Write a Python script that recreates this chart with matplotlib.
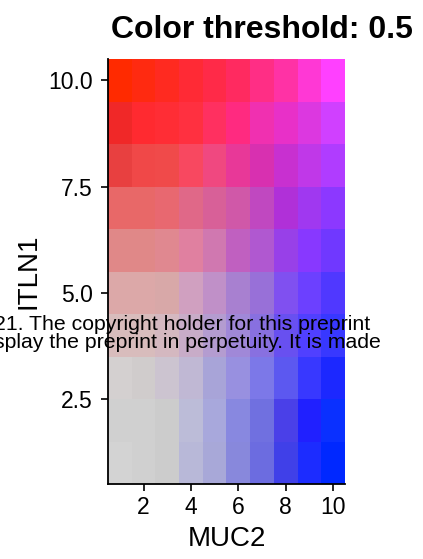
import numpy as np
import matplotlib
matplotlib.use("Agg")
import matplotlib.pyplot as plt
from matplotlib.colors import to_rgb

plt.rcParams['font.family'] = ['Liberation Sans', 'DejaVu Sans']

# blend colours, row 1 (bottom, ITLN1 = 1) to row 10 (top)
# each row goes MUC2 = 1 .. 10
row1 = ['#d3d3d3', '#d0d0d0', '#cccccc', '#b8b8d8', '#a8a8d8', '#8888dc', '#6c6ce0', '#4040e8', '#1c2cff', '#0028ff']
row2 = ['#d0d0d0', '#d0d0d0', '#cccccc', '#bcbcd8', '#a8a8dc', '#8888e0', '#7070e0', '#4a40e8', '#2020ff', '#0a30ff']
row3 = ['#d4d0d0', '#d0cccc', '#ccc4d0', '#c0b8d4', '#a8a4d8', '#9890e0', '#7c78e8', '#5c58f0', '#3838ff', '#1c28ff']
row4 = ['#d8bcbc', '#d8bcbc', '#d4b8c0', '#c8acc8', '#b49cd0', '#a088d8', '#8870e0', '#6850f0', '#5040ff', '#3838ff']
row5 = ['#dca8a8', '#dca8a8', '#d8a8a8', '#d0a0c0', '#c090c8', '#a880d0', '#9870d8', '#8050f0', '#6c40ff', '#5038ff']
row6 = ['#e08888', '#e08888', '#e08890', '#e080a0', '#d078b0', '#c060c0', '#b058d0', '#9840e8', '#8838ff', '#7038ff']
row7 = ['#e86868', '#e86868', '#e86870', '#e06888', '#d86098', '#d058a8', '#c048c0', '#b030d8', '#a038f0', '#8c38ff']
row8 = ['#e84040', '#f04848', '#f04a4a', '#f84860', '#f04880', '#e83898', '#d830b0', '#c830d0', '#c038e8', '#b03cff']
row9 = ['#f02828', '#ff2a30', '#ff2d35', '#ff3040', '#ff3060', '#ff2a80', '#f030b0', '#e830c8', '#dc38e0', '#d040ff']
row10 = ['#ff2a00', '#ff2a10', '#ff2a20', '#ff2a35', '#ff2a48', '#ff2a60', '#ff2e85', '#ff32a5', '#ff38d5', '#ff40ff']
rows = [row1, row2, row3, row4, row5, row6, row7, row8, row9, row10]

muc2 = np.arange(1, 11)
itln1 = np.arange(1, 11)
xticks = [2, 4, 6, 8, 10]
yticks = [2.5, 5.0, 7.5, 10.0]

rgb = np.array([[to_rgb(c) for c in r] for r in rows])

fig = plt.figure(figsize=(4.23, 5.59), dpi=100)
ax = fig.add_axes([108/423, 1 - 484/559, 237/423, 425/559])
ax.imshow(rgb, origin='lower', aspect='auto',
          extent=(muc2[0] - 0.5, muc2[-1] + 0.5, itln1[0] - 0.5, itln1[-1] + 0.5))
ax.set_xlim(0.5, 10.5)
ax.set_ylim(0.5, 10.5)

for s in ['top', 'right']:
    ax.spines[s].set_visible(False)
for s in ['left', 'bottom']:
    ax.spines[s].set_linewidth(1.3)
    ax.spines[s].set_color('black')

ax.set_xticks(xticks)
ax.set_xticklabels([str(t) for t in xticks])
ax.set_yticks(yticks)
ax.set_yticklabels(['%.1f' % t for t in yticks])
ax.tick_params(direction='out', length=5, width=1.2, labelsize=16.5, colors='black')
ax.tick_params(axis='y', pad=6)
ax.tick_params(axis='x', pad=4)
ax.set_xlabel('MUC2', fontsize=20, labelpad=5)
ax.set_ylabel('ITLN1', fontsize=20, labelpad=5)

fig.text(262/423, 1 - 30/559, 'Color threshold: 0.5', ha='center', va='center',
         fontsize=23, fontweight='bold')

# preprint watermark lying across the figure
fig.text(370/423, 1 - 330/559, '21. The copyright holder for this preprint',
         ha='right', va='baseline', fontsize=15.3)
fig.text(381/423, 1 - 348/559, 'splay the preprint in perpetuity. It is made',
         ha='right', va='baseline', fontsize=15.3)

fig.savefig('out.png', dpi=100)
